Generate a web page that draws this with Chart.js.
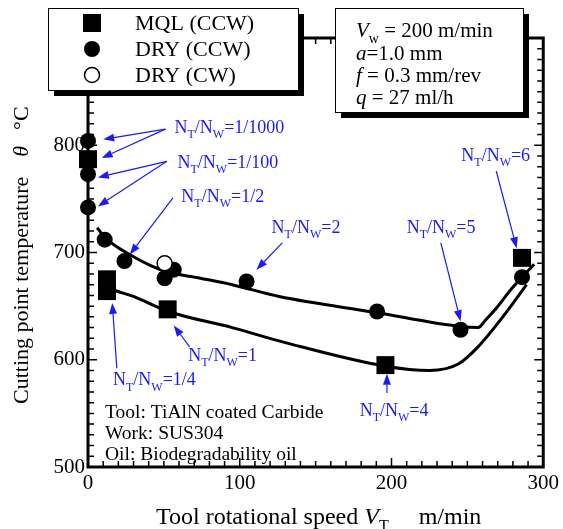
<!DOCTYPE html>
<html>
<head>
<meta charset="utf-8">
<script src="https://cdn.jsdelivr.net/npm/chart.js@4"></script>
<style>
  html, body { margin: 0; padding: 0; background: #fff; }
  canvas { display: block; }
</style>
</head>
<body>
<canvas id="chart" width="563" height="529"></canvas>
<script>
// Measured points (tool speed m/min, temperature °C)
const mqlX = [0, 12.5, 12.5, 52.5, 196, 286];
const mqlY = [787, 675, 664, 647, 595, 695];
const dryCcwX = [0, 0, 0, 11, 24, 50.5, 56.5, 104.5, 190.5, 245.5, 286];
const dryCcwY = [804, 773, 742, 712, 692, 676, 684, 673, 645, 628, 677];
const dryCwX = [50.5];
const dryCwY = [690];

// Fitted curves
const fitDryX = [6, 12, 30, 41, 52, 74, 95, 126, 190, 245, 257, 262, 269, 279, 294];
const fitDryY = [723, 713, 696, 688, 682, 676, 670, 659, 644, 631, 630, 637, 648, 666, 689];
const fitMqlX = [7, 14, 30, 53, 95, 130, 196, 225, 244, 257, 275, 289];
const fitMqlY = [674, 667, 659, 645, 630, 616, 594, 590, 596, 612, 643, 670];

// Axis ticks
const xTicks = [0, 100, 200, 300];
const yTicks = [500, 600, 700, 800];

// N_T/N_W call-outs: ratio text, label anchor, arrow start, arrow tips (data units)
const callouts = [
  { text: '1/1000', at: [57, 811], from: [51, 815], tips: [[10, 805.5], [9, 788]] },
  { text: '1/100', at: [59, 779], from: [52, 785], tips: [[6.5, 770], [6.5, 743]] },
  { text: '1/2', at: [61.5, 747], from: [56, 751], tips: [[27.5, 698]] },
  { text: '2', at: [121, 718], from: [128, 709], tips: [[111, 684]] },
  { text: '5', at: [210, 718], from: [232.5, 709], tips: [[245.5, 636]] },
  { text: '6', at: [246, 785], from: [269, 776], tips: [[282.5, 704]] },
  { text: '1/4', at: [16.5, 576], from: [19, 592], tips: [[16, 653]] },
  { text: '1', at: [66, 599], from: [67, 612], tips: [[56.5, 632]] },
  { text: '4', at: [179, 548], from: [197, 569], tips: [[197, 587]] }
];

const notes = ['Tool: TiAlN coated Carbide', 'Work: SUS304', 'Oil: Biodegradability oil'];

const SERIF = '"Liberation Serif", "Times New Roman", serif';
const BLUE = '#1a1aff';

const pts = (xs, ys) => xs.map((v, i) => ({ x: v, y: ys[i] }));

function arrow(ctx, x1, y1, x2, y2) {
    const ang = Math.atan2(y2 - y1, x2 - x1);
    const hl = 11, hw = 4;
    const bx = x2 - hl * Math.cos(ang), by = y2 - hl * Math.sin(ang);
    ctx.beginPath();
    ctx.moveTo(x1, y1);
    ctx.lineTo(bx, by);
    ctx.stroke();
    ctx.beginPath();
    ctx.moveTo(x2, y2);
    ctx.lineTo(bx + hw * Math.sin(ang), by - hw * Math.cos(ang));
    ctx.lineTo(bx - hw * Math.sin(ang), by + hw * Math.cos(ang));
    ctx.closePath();
    ctx.fill();
}

// draws pieces [{t, italic, sub, gap}] left to right, returns end x
function drawRich(ctx, parts, x, y, size) {
    parts.forEach(p => {
        if (p.gap) { x += p.gap; return; }
        const fs = p.sub ? Math.round(size * 0.65) : size;
        ctx.font = (p.italic ? 'italic ' : '') + fs + 'px ' + SERIF;
        ctx.fillText(p.t, x, p.sub ? y + size * 0.28 : y);
        x += ctx.measureText(p.t).width;
    });
    return x;
}

function shadowBox(ctx, l, t, r, b) {
    ctx.fillStyle = '#000';
    ctx.fillRect(l + 6, t + 6, r - l, b - t);
    ctx.fillStyle = '#fff';
    ctx.fillRect(l, t, r - l, b - t);
    ctx.lineWidth = 1;
    ctx.strokeStyle = '#000';
    ctx.strokeRect(l + 0.5, t + 0.5, r - l, b - t);
}

const frameAndTicks = {
    id: 'frameAndTicks',
    beforeDatasetsDraw(chart) {
        const { ctx, chartArea: a, scales: { x, y } } = chart;
        ctx.save();
        ctx.strokeStyle = '#000';
        ctx.lineWidth = 1.5;
        ctx.beginPath();
        for (let v = 0; v <= 300; v += 10) {
            const px = x.getPixelForValue(v);
            const len = v % 100 === 0 ? 9 : 6;
            ctx.moveTo(px, a.bottom); ctx.lineTo(px, a.bottom - len);
            ctx.moveTo(px, a.top); ctx.lineTo(px, a.top + len);
        }
        for (let v = 500; v <= 900; v += 10) {
            const py = y.getPixelForValue(v);
            const len = v % 100 === 0 ? 9 : 6;
            ctx.moveTo(a.left, py); ctx.lineTo(a.left + len, py);
            ctx.moveTo(a.right, py); ctx.lineTo(a.right - len, py);
        }
        ctx.stroke();
        ctx.lineWidth = 3;
        ctx.strokeRect(a.left, a.top, a.right - a.left, a.bottom - a.top);
        ctx.restore();
    },
    afterDraw(chart) {
        const { ctx, chartArea: a, scales: { x, y } } = chart;
        ctx.save();
        ctx.textBaseline = 'alphabetic';

        // call-outs
        ctx.strokeStyle = BLUE;
        ctx.fillStyle = BLUE;
        ctx.lineWidth = 1.2;
        callouts.forEach(c => {
            const fx = x.getPixelForValue(c.from[0]), fy = y.getPixelForValue(c.from[1]);
            c.tips.forEach(t => arrow(ctx, fx, fy, x.getPixelForValue(t[0]), y.getPixelForValue(t[1])));
            drawRich(ctx, [
                { t: 'N' }, { t: 'T', sub: true }, { t: '/N' }, { t: 'W', sub: true }, { t: '=' + c.text }
            ], x.getPixelForValue(c.at[0]), y.getPixelForValue(c.at[1]), 18);
        });

        // notes
        ctx.fillStyle = '#000';
        ctx.font = '19.5px ' + SERIF;
        notes.forEach((n, i) => ctx.fillText(n, a.left + 17, 418 + i * 21));

        // axis titles
        drawRich(ctx, [
            { t: 'Tool rotational speed ' }, { t: 'V', italic: true }, { t: 'T', sub: true }, { gap: 30 }, { t: 'm/min' }
        ], 156, 524, 24);
        ctx.save();
        ctx.translate(28, 404);
        ctx.rotate(-Math.PI / 2);
        drawRich(ctx, [
            { t: 'Cutting point temperature' }, { gap: 20 }, { t: 'θ', italic: true }, { gap: 16 }, { t: '°C' }
        ], 0, 0, 22);
        ctx.restore();

        // legend box
        shadowBox(ctx, 48, 8, 298, 90);
        const rows = [23, 49, 75];
        ctx.fillStyle = '#000';
        ctx.fillRect(83, rows[0] - 9, 18, 18);
        ctx.beginPath(); ctx.arc(92, rows[1], 8, 0, Math.PI * 2); ctx.fill();
        ctx.beginPath(); ctx.arc(92, rows[2], 7.5, 0, Math.PI * 2);
        ctx.lineWidth = 1.5; ctx.stroke();
        ctx.font = '22px ' + SERIF;
        ctx.textBaseline = 'middle';
        ['MQL (CCW)', 'DRY (CCW)', 'DRY (CW)'].forEach((t, i) => ctx.fillText(t, 135, rows[i] + 1));
        ctx.textBaseline = 'alphabetic';

        // cutting conditions box
        shadowBox(ctx, 335, 8, 523, 112);
        ctx.fillStyle = '#000';
        drawRich(ctx, [{ t: 'V', italic: true }, { t: 'w', sub: true }, { t: ' = 200 m/min' }], 356, 37, 21);
        drawRich(ctx, [{ t: 'a', italic: true }, { t: '=1.0 mm' }], 356, 60, 21);
        drawRich(ctx, [{ t: 'f', italic: true }, { t: ' = 0.3 mm/rev' }], 356, 82, 21);
        drawRich(ctx, [{ t: 'q', italic: true }, { t: ' = 27 ml/h' }], 356, 104, 21);
        ctx.restore();
    }
};

const ctx = document.getElementById('chart').getContext('2d');
new Chart(ctx, {
    type: 'scatter',
    data: {
        datasets: [
            {
                label: 'DRY (CW)', data: pts(dryCwX, dryCwY), order: 0, clip: false,
                pointStyle: 'circle', pointRadius: 7.5, backgroundColor: '#fff',
                borderColor: '#000', borderWidth: 1.5
            },
            {
                label: 'DRY (CCW)', data: pts(dryCcwX, dryCcwY), order: 1, clip: false,
                pointStyle: 'circle', pointRadius: 8, backgroundColor: '#000',
                borderColor: '#000', borderWidth: 0
            },
            {
                label: 'MQL (CCW)', data: pts(mqlX, mqlY), order: 2, clip: false,
                pointStyle: 'rect', pointRadius: 12.7, backgroundColor: '#000',
                borderColor: '#000', borderWidth: 0
            },
            {
                label: 'fit DRY', data: pts(fitDryX, fitDryY), order: 5, showLine: true,
                pointRadius: 0, borderColor: '#000', borderWidth: 3,
                cubicInterpolationMode: 'monotone'
            },
            {
                label: 'fit MQL', data: pts(fitMqlX, fitMqlY), order: 6, showLine: true,
                pointRadius: 0, borderColor: '#000', borderWidth: 3,
                cubicInterpolationMode: 'monotone'
            }
        ]
    },
    options: {
        responsive: false,
        animation: false,
        layout: { padding: { left: 0, right: 18, top: 38, bottom: 0 } },
        plugins: { legend: { display: false }, tooltip: { enabled: false } },
        scales: {
            x: {
                type: 'linear', min: 0, max: 300,
                afterBuildTicks: s => { s.ticks = xTicks.map(v => ({ value: v })); },
                ticks: { color: '#000', font: { family: SERIF, size: 21 }, padding: 4, maxRotation: 0 },
                grid: { display: false, drawTicks: false },
                border: { display: false },
                afterFit: s => { s.height = 62; }
            },
            y: {
                type: 'linear', min: 500, max: 900,
                afterBuildTicks: s => { s.ticks = yTicks.map(v => ({ value: v })); },
                ticks: { color: '#000', font: { family: SERIF, size: 21 }, padding: 3 },
                grid: { display: false, drawTicks: false },
                border: { display: false },
                afterFit: s => { s.width = 88; }
            }
        }
    },
    plugins: [frameAndTicks]
});
</script>
</body>
</html>
